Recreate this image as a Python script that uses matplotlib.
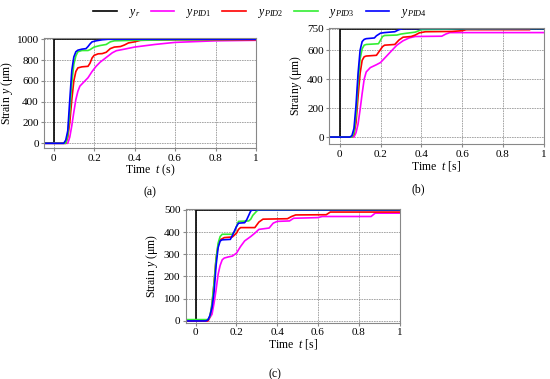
import matplotlib
matplotlib.use('Agg')
import matplotlib.pyplot as plt

plt.rcParams['font.family'] = ['Liberation Serif', 'DejaVu Serif']
plt.rcParams['mathtext.fontset'] = 'custom'
plt.rcParams['mathtext.rm'] = 'Liberation Serif'
plt.rcParams['mathtext.it'] = 'Liberation Serif:italic'

names = ['$y_r$', '$y_{PID1}$', '$y_{PID2}$', '$y_{PID3}$', '$y_{PID4}$']
colors = ['#000000', '#ff00ff', '#ff0000', '#33ee33', '#0000ff']

# ---- panel (a), reference 1000 um ----
tRefA = [-0.05, 0.0, 0.0, 1.0]
yRefA = [0, 0, 1000, 1000]
tPid1A = [-0.05, 0.07, 0.08, 0.09, 0.10, 0.11, 0.12, 0.13, 0.15, 0.17, 0.19, 0.21, 0.23, 0.25, 0.27, 0.29, 0.31, 0.35, 0.40, 0.50, 0.60, 0.80, 1.0]
yPid1A = [0, 0, 60, 170, 300, 420, 500, 550, 590, 630, 690, 740, 780, 810, 840, 870, 890, 905, 925, 950, 970, 985, 990]
tPid2A = [-0.05, 0.06, 0.07, 0.08, 0.09, 0.10, 0.11, 0.12, 0.14, 0.17, 0.18, 0.19, 0.20, 0.22, 0.24, 0.26, 0.28, 0.30, 0.33, 0.35, 0.37, 0.40, 0.43, 0.60, 1.0]
yPid2A = [0, 0, 60, 200, 420, 600, 690, 725, 735, 740, 770, 820, 845, 860, 862, 875, 910, 925, 930, 945, 965, 975, 990, 995, 995]
tPid3A = [-0.05, 0.06, 0.07, 0.08, 0.09, 0.10, 0.11, 0.12, 0.14, 0.17, 0.18, 0.20, 0.23, 0.26, 0.28, 0.30, 0.40, 0.60, 1.0]
yPid3A = [0, 0, 80, 300, 580, 760, 840, 880, 892, 892, 900, 925, 940, 950, 975, 985, 990, 995, 1000]
tPid4A = [-0.05, 0.05, 0.06, 0.07, 0.08, 0.09, 0.10, 0.11, 0.12, 0.14, 0.16, 0.17, 0.18, 0.19, 0.21, 0.24, 0.27, 1.0]
yPid4A = [0, 0, 30, 120, 420, 700, 830, 880, 895, 905, 910, 930, 955, 975, 985, 995, 1000, 1000]

# ---- panel (b), reference 750 um ----
tRefB = [-0.05, 0.0, 0.0, 1.0]
yRefB = [0, 0, 750, 750]
tPid1B = [-0.05, 0.07, 0.08, 0.09, 0.10, 0.11, 0.12, 0.13, 0.15, 0.18, 0.20, 0.22, 0.25, 0.28, 0.31, 0.34, 0.37, 0.50, 0.52, 0.54, 1.0]
yPid1B = [0, 0, 30, 90, 190, 300, 400, 450, 480, 500, 515, 545, 590, 635, 665, 685, 695, 697, 712, 722, 722]
tPid2B = [-0.05, 0.06, 0.07, 0.08, 0.09, 0.10, 0.11, 0.12, 0.13, 0.18, 0.19, 0.21, 0.22, 0.27, 0.29, 0.31, 0.35, 0.37, 0.39, 0.42, 0.55, 0.60, 0.62, 0.93]
yPid2B = [0, 0, 20, 100, 280, 440, 530, 555, 560, 565, 585, 625, 635, 640, 670, 690, 695, 705, 720, 728, 730, 735, 742, 742]
tPid3B = [-0.05, 0.06, 0.07, 0.08, 0.09, 0.10, 0.11, 0.12, 0.13, 0.19, 0.20, 0.21, 0.22, 0.28, 0.30, 0.33, 0.37, 0.40, 0.60, 1.0]
yPid3B = [0, 0, 30, 150, 380, 540, 610, 635, 640, 645, 670, 695, 702, 705, 712, 718, 725, 742, 748, 750]
tPid4B = [-0.05, 0.05, 0.06, 0.07, 0.08, 0.09, 0.10, 0.11, 0.12, 0.13, 0.17, 0.18, 0.20, 0.22, 0.27, 0.29, 0.31, 1.0]
yPid4B = [0, 0, 10, 60, 220, 440, 600, 660, 675, 680, 685, 700, 718, 722, 728, 742, 750, 750]

# ---- panel (c), reference 500 um ----
tRefC = [-0.05, 0.0, 0.0, 1.0]
yRefC = [0, 0, 500, 500]
tPid1C = [-0.05, 0.06, 0.08, 0.09, 0.10, 0.11, 0.12, 0.13, 0.14, 0.16, 0.18, 0.20, 0.22, 0.24, 0.27, 0.29, 0.31, 0.36, 0.38, 0.40, 0.46, 0.48, 0.60, 0.62, 0.86, 0.88, 1.0]
yPid1C = [0, 0, 30, 80, 140, 210, 250, 275, 283, 288, 292, 305, 335, 360, 380, 395, 412, 418, 440, 448, 450, 462, 465, 470, 470, 485, 485]
tPid2C = [-0.05, 0.06, 0.07, 0.08, 0.09, 0.10, 0.11, 0.12, 0.14, 0.18, 0.20, 0.21, 0.22, 0.29, 0.31, 0.33, 0.45, 0.47, 0.49, 0.64, 0.66, 1.0]
yPid2C = [0, 0, 20, 70, 170, 280, 340, 365, 375, 378, 395, 412, 420, 420, 445, 458, 460, 470, 477, 478, 490, 490]
tPid3C = [-0.05, 0.06, 0.07, 0.08, 0.09, 0.10, 0.11, 0.12, 0.13, 0.18, 0.19, 0.20, 0.21, 0.26, 0.27, 0.28, 0.30, 0.31, 1.0]
yPid3C = [6, 6, 20, 80, 170, 280, 350, 380, 390, 390, 400, 425, 448, 450, 458, 475, 495, 500, 500]
tPid4C = [-0.05, 0.05, 0.06, 0.07, 0.08, 0.09, 0.10, 0.11, 0.12, 0.13, 0.17, 0.18, 0.20, 0.21, 0.24, 0.25, 0.26, 0.27, 0.28, 1.0]
yPid4C = [0, 0, 5, 25, 60, 130, 250, 330, 360, 365, 367, 385, 425, 440, 442, 455, 475, 495, 500, 500]

panels = [
    ([tRefA, tPid1A, tPid2A, tPid3A, tPid4A], [yRefA, yPid1A, yPid2A, yPid3A, yPid4A]),
    ([tRefB, tPid1B, tPid2B, tPid3B, tPid4B], [yRefB, yPid1B, yPid2B, yPid3B, yPid4B]),
    ([tRefC, tPid1C, tPid2C, tPid3C, tPid4C], [yRefC, yPid1C, yPid2C, yPid3C, yPid4C]),
]
rects = [[0.0805, 0.6087, 0.385, 0.291],
         [0.5987, 0.6193, 0.390, 0.3073],
         [0.338, 0.1485, 0.3886, 0.3008]]
ylims = [(-48, 1012), (-50, 755), (-8, 505)]
xlims = [(-0.046, 1.0), (-0.051, 1.0), (-0.048, 1.0)]
yticks = [[0, 200, 400, 600, 800, 1000], [0, 200, 400, 600, 750], [0, 100, 200, 300, 400, 500]]
ylabels = ['Strain $y$ (\u03bcm)', 'Strain$y$ (\u03bcm)', 'Strain $y$ (\u03bcm)']
xlabels = ['Time  $t$ (s)', 'Time  $t$ [s]', 'Time  $t$ [s]']
ylabelx = [-0.138, -0.118, -0.122]

fig = plt.figure(figsize=(5.5, 3.79), dpi=100)
for k in range(3):
    ax = fig.add_axes(rects[k])
    ts, ys = panels[k]
    for i in range(5):
        ax.plot(ts[i], ys[i], color=colors[i], lw=1.2, label=names[i])
    ax.set_xlim(*xlims[k])
    ax.set_ylim(*ylims[k])
    ax.set_xticks([0, 0.2, 0.4, 0.6, 0.8, 1])
    ax.set_xticklabels(['0', '0.2', '0.4', '0.6', '0.8', '1'])
    ax.set_yticks(yticks[k])
    ax.grid(True, color='#999999', lw=0.6, ls=(0, (2, 1)))
    ax.tick_params(labelsize=8, length=2, color='#888888', pad=2)
    for s in ax.spines.values():
        s.set_color('#888888')
        s.set_linewidth(0.8)
    ax.set_ylabel(ylabels[k], fontsize=8.5)
    ax.yaxis.set_label_coords(ylabelx[k], 0.5)
    ax.set_xlabel(xlabels[k], fontsize=8.5, labelpad=0)
    if k == 0:
        handles, labs = ax.get_legend_handles_labels()

fig.legend(handles, labs, loc='center', bbox_to_anchor=(0.473, 0.966), ncol=5,
           frameon=False, fontsize=8.5, handlelength=2.0, columnspacing=0.9, handletextpad=1.0)
fig.text(0.273, 0.485, '(a)', fontsize=8.5, ha='center')
fig.text(0.76, 0.492, '(b)', fontsize=8.5, ha='center')
fig.text(0.5, -0.003, '(c)', fontsize=8.5, ha='center', va='bottom')

fig.savefig('out.png', dpi=100)
